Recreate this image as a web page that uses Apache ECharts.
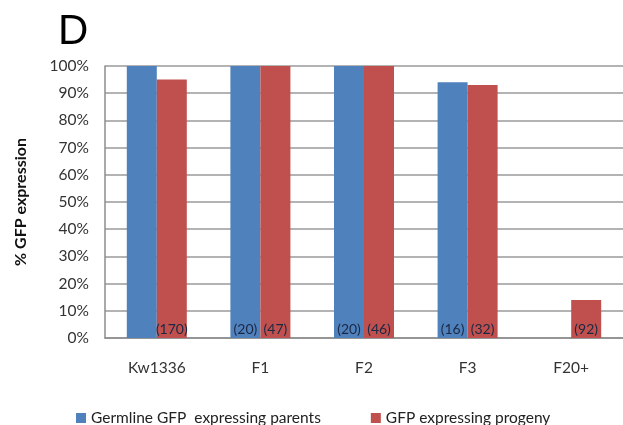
<!DOCTYPE html>
<html>
<head>
<meta charset="utf-8">
<script src="https://cdn.jsdelivr.net/npm/echarts@6/dist/echarts.min.js"></script>
<style>
  html, body { margin: 0; padding: 0; background: #ffffff; }
  #chart { width: 623px; height: 425px; }
</style>
</head>
<body>
<div id="chart"></div>
<script>
// Generations tested
const categories = ['Kw1336', 'F1', 'F2', 'F3', 'F20+'];
// Fraction of animals expressing GFP
const parentValues = [1.00, 1.00, 1.00, 0.94, 0];
const progenyValues = [0.95, 1.00, 1.00, 0.93, 0.14];
// Number of animals scored (shown at the base of each bar)
const parentCounts = ['', '(20)', '(20)', '(16)', ''];
const progenyCounts = ['(170)', '(47)', '(46)', '(32)', '(92)'];
// Axis tick values
const yTicks = [0, 0.1, 0.2, 0.3, 0.4, 0.5, 0.6, 0.7, 0.8, 0.9, 1.0];

const FONT = 'Lato, "Open Sans", sans-serif';
const countLabel = (counts) => ({
  show: true,
  position: 'insideBottom',
  distance: 2,
  color: '#1c2744',
  fontFamily: FONT,
  fontSize: 14,
  formatter: (p) => counts[p.dataIndex]
});

const chart = echarts.init(document.getElementById('chart'), null, { renderer: 'canvas' });
chart.setOption({
  animation: false,
  backgroundColor: '#ffffff',
  title: {
    text: 'D',
    left: 53,
    top: 6,
    textStyle: { fontFamily: '"Liberation Sans", Arial, sans-serif', fontSize: 42, fontWeight: 'normal', color: '#000' }
  },
  grid: { left: 105, right: -2, top: 66, bottom: 87 },
  legend: {
    left: 71,
    top: 405,
    itemWidth: 10,
    itemHeight: 10,
    itemGap: 50,
    icon: 'rect',
    textStyle: { fontFamily: FONT, fontSize: 15.5, color: '#222' },
    data: ['Germline GFP  expressing parents', 'GFP expressing progeny']
  },
  xAxis: {
    type: 'category',
    data: categories,
    axisLine: { lineStyle: { color: '#8c8c8c', width: 1.5 } },
    axisTick: { show: false },
    axisLabel: { margin: 22, color: '#333', fontFamily: FONT, fontSize: 15.5 }
  },
  yAxis: {
    type: 'value',
    min: yTicks[0],
    max: yTicks[yTicks.length - 1],
    interval: 0.1,
    name: '% GFP expression',
    nameLocation: 'middle',
    nameGap: 76,
    nameTextStyle: { fontFamily: FONT, fontSize: 16, fontWeight: 'bold', color: '#111' },
    axisLine: { show: true, lineStyle: { color: '#8c8c8c', width: 1.5 } },
    axisTick: { show: false },
    splitLine: { lineStyle: { color: '#9a9a9a', width: 1.5 } },
    axisLabel: {
      margin: 16,
      color: '#333',
      fontFamily: FONT,
      fontSize: 15.5,
      formatter: (v) => Math.round(v * 100) + '%'
    }
  },
  series: [
    {
      name: 'Germline GFP  expressing parents',
      type: 'bar',
      data: parentValues,
      barWidth: 30,
      barGap: '0%',
      itemStyle: { color: '#4F81BD' },
      label: countLabel(parentCounts)
    },
    {
      name: 'GFP expressing progeny',
      type: 'bar',
      data: progenyValues,
      barWidth: 30,
      itemStyle: { color: '#C0504D' },
      label: countLabel(progenyCounts)
    }
  ]
});
</script>
</body>
</html>
